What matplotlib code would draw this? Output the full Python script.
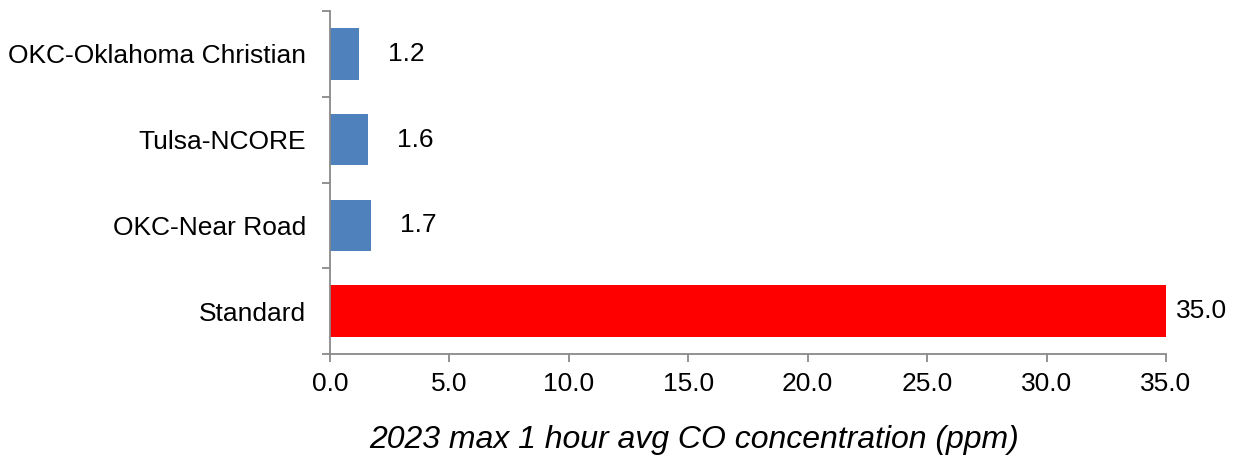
import matplotlib
matplotlib.use("Agg")
import matplotlib.pyplot as plt
import numpy as np

plt.rcParams['font.family'] = ['Liberation Sans', 'DejaVu Sans']

sites = ['OKC-Oklahoma Christian', 'Tulsa-NCORE', 'OKC-Near Road', 'Standard']
values = [1.2, 1.6, 1.7, 35.0]
colors = ['#4F81BD', '#4F81BD', '#4F81BD', '#FF0000']
xticks = [0, 5, 10, 15, 20, 25, 30, 35]

fig = plt.figure(figsize=(12.37, 4.57), dpi=100)
ax = fig.add_axes([0.2668, 0.2254, 0.6758, 0.7505])

y = np.arange(len(sites))
ax.barh(y, values, height=0.6, color=colors)
ax.set_ylim(len(sites) - 0.5, -0.5)
ax.set_xlim(0, 35)

# value labels
for yi, v in zip(y, values):
    off = 10 if v > 10 else 29
    ax.annotate(f'{v:.1f}', (v, yi), xytext=(off, 0), textcoords='offset pixels',
                va='center', ha='left', fontsize=19, color='black')

# axes styling
for s in ['top', 'right']:
    ax.spines[s].set_visible(False)
for s in ['left', 'bottom']:
    ax.spines[s].set_color('#898989')
    ax.spines[s].set_linewidth(1.3)

ax.set_yticks(y)
ax.set_yticklabels(sites, fontsize=19)
ax.tick_params(axis='y', which='major', length=0, pad=17)
ax.set_yticks(np.arange(-0.5, len(sites), 1.0), minor=True)
ax.tick_params(axis='y', which='minor', length=6, width=1.3, color='#898989', direction='out')

ax.set_xticks(xticks)
ax.set_xticklabels([f'{t:.1f}' for t in xticks], fontsize=19)
ax.tick_params(axis='x', length=6, width=1.3, color='#898989', direction='out', pad=7)

fig.text(694 / 1237, 1 - 440 / 457, '2023 max 1 hour avg CO concentration (ppm)',
         fontsize=23, style='italic', ha='center', va='center')

fig.savefig('out.png', dpi=100)
